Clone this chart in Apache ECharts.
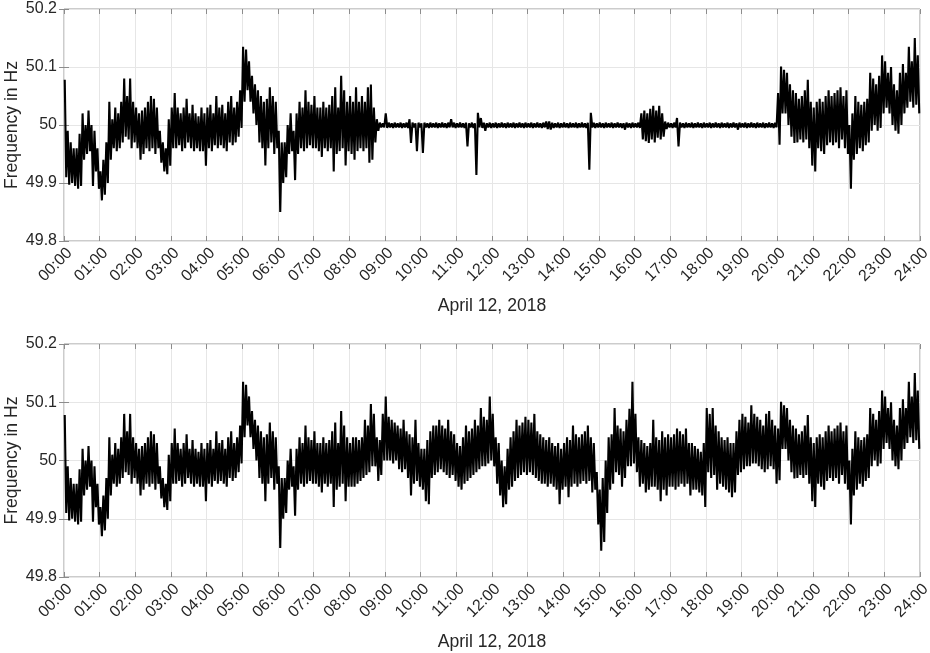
<!DOCTYPE html>
<html>
<head>
<meta charset="utf-8">
<title>Grid frequency, April 12, 2018</title>
<script src="https://cdn.jsdelivr.net/npm/echarts@6/dist/echarts.min.js"></script>
<style>
html, body { margin: 0; padding: 0; background: #fff; }
#main { width: 930px; height: 653px; }
</style>
</head>
<body>
<div id="main"></div>
<script>
// hour tick labels of both x axes
const hourLabels = ['00:00','01:00','02:00','03:00','04:00','05:00','06:00','07:00','08:00','09:00','10:00','11:00','12:00',
  '13:00','14:00','15:00','16:00','17:00','18:00','19:00','20:00','21:00','22:00','23:00','24:00'];

// frequency envelope per 5 minute slot (upper / lower value)
// 00:00 - 08:00, same in both panels
const hiMorning = [
  50.078, 49.99, 49.97, 49.96, 49.96, 49.985, 50.02, 50.0, 50.025, 50.0, 49.99, 49.96,
  49.92, 49.94, 49.97, 50.04, 50.01, 50.03, 50.02, 50.04, 50.08, 50.05, 50.08, 50.04,
  50.03, 50.02, 50.025, 50.03, 50.04, 50.05, 50.045, 50.03, 49.99, 49.97, 49.96, 50.01,
  50.03, 50.055, 50.03, 50.02, 50.03, 50.045, 50.02, 50.035, 50.02, 50.015, 50.03, 50.02,
  50.03, 50.035, 50.02, 50.05, 50.03, 50.035, 50.02, 50.04, 50.05, 50.03, 50.04, 50.06,
  50.135, 50.13, 50.11, 50.085, 50.07, 50.06, 50.05, 50.04, 50.045, 50.065, 50.05, 50.04,
  49.99, 49.97, 49.97, 50.0, 50.02, 49.99, 50.02, 50.04, 50.03, 50.06, 50.04, 50.035,
  50.05, 50.03, 50.03, 50.04, 50.03, 50.035, 50.05, 50.065, 50.03, 50.085, 50.06, 50.04
];
const loMorning = [
  49.91, 49.897, 49.9, 49.895, 49.89, 49.895, 49.94, 49.95, 49.955, 49.895, 49.92, 49.89,
  49.87, 49.88, 49.9, 49.94, 49.96, 49.955, 49.96, 49.97, 49.98, 49.975, 49.96, 49.97,
  49.96, 49.94, 49.95, 49.96, 49.955, 49.96, 49.95, 49.96, 49.935, 49.92, 49.915, 49.93,
  49.96, 49.96, 49.965, 49.955, 49.96, 49.97, 49.96, 49.955, 49.96, 49.955, 49.955, 49.93,
  49.96, 49.955, 49.965, 49.96, 49.965, 49.96, 49.955, 49.97, 49.965, 49.97, 49.98, 49.995,
  50.04, 50.06, 50.04, 50.02, 50.0, 49.97, 49.96, 49.93, 49.96, 49.97, 49.95, 49.96,
  49.85, 49.9, 49.91, 49.95, 49.955, 49.905, 49.95, 49.96, 49.955, 49.96, 49.965, 49.96,
  49.96, 49.955, 49.945, 49.96, 49.955, 49.96, 49.92, 49.95, 49.955, 49.96, 49.93, 49.955
];

// 08:00 - 20:00, upper panel (controlled, nearly flat)
const hiDayTop = [
  50.05, 50.04, 50.065, 50.04, 50.05, 50.04, 50.065, 50.07, 50.03, 50.01, 50.004, 50.003,
  50.02, 50.004, 50.003, 50.004, 50.003, 50.004, 50.003, 50.004, 50.01, 50.004, 50.003, 50.004,
  50.003, 50.004, 50.003, 50.004, 50.003, 50.004, 50.003, 50.004, 50.003, 50.004, 50.01, 50.004,
  50.003, 50.004, 50.003, 50.004, 50.003, 50.004, 50.003, 50.021, 50.012, 50.004, 50.003, 50.004,
  50.003, 50.004, 50.003, 50.004, 50.003, 50.004, 50.003, 50.004, 50.003, 50.004, 50.003, 50.004,
  50.003, 50.004, 50.003, 50.004, 50.003, 50.004, 50.006, 50.006, 50.004, 50.003, 50.004, 50.003,
  50.004, 50.003, 50.004, 50.003, 50.004, 50.003, 50.004, 50.003, 50.004, 50.021, 50.004, 50.003,
  50.004, 50.003, 50.004, 50.003, 50.004, 50.003, 50.004, 50.003, 50.003, 50.004, 50.003, 50.004,
  50.003, 50.004, 50.02, 50.025, 50.02, 50.028, 50.033, 50.025, 50.033, 50.02, 50.006, 50.004,
  50.003, 50.004, 50.012, 50.004, 50.003, 50.004, 50.003, 50.004, 50.003, 50.004, 50.003, 50.004,
  50.003, 50.004, 50.003, 50.004, 50.003, 50.004, 50.003, 50.004, 50.003, 50.004, 50.003, 50.004,
  50.003, 50.004, 50.003, 50.004, 50.003, 50.004, 50.003, 50.004, 50.003, 50.004, 50.003, 50.004
];
const loDayTop = [
  49.95, 49.94, 49.955, 49.96, 49.955, 49.96, 49.935, 49.94, 49.97, 49.99, 49.996, 49.996,
  49.995, 49.996, 49.995, 49.996, 49.996, 49.995, 49.996, 49.995, 49.969, 49.996, 49.955, 49.996,
  49.952, 49.996, 49.995, 49.996, 49.996, 49.995, 49.996, 49.996, 49.995, 49.996, 49.996, 49.995,
  49.996, 49.996, 49.995, 49.963, 49.996, 49.995, 49.914, 49.996, 49.995, 49.99, 49.996, 49.995,
  49.996, 49.995, 49.996, 49.996, 49.995, 49.996, 49.996, 49.995, 49.996, 49.996, 49.995, 49.996,
  49.996, 49.995, 49.996, 49.996, 49.995, 49.996, 49.993, 49.992, 49.995, 49.996, 49.995, 49.996,
  49.996, 49.995, 49.996, 49.996, 49.995, 49.996, 49.996, 49.995, 49.923, 49.996, 49.995, 49.996,
  49.996, 49.995, 49.996, 49.996, 49.995, 49.996, 49.996, 49.995, 49.992, 49.996, 49.995, 49.996,
  49.996, 49.995, 49.975, 49.972, 49.969, 49.975, 49.97, 49.978, 49.975, 49.98, 49.993, 49.996,
  49.995, 49.996, 49.963, 49.996, 49.995, 49.996, 49.996, 49.995, 49.996, 49.996, 49.995, 49.996,
  49.996, 49.995, 49.996, 49.996, 49.995, 49.996, 49.996, 49.995, 49.996, 49.996, 49.992, 49.996,
  49.996, 49.995, 49.996, 49.996, 49.995, 49.996, 49.996, 49.995, 49.996, 49.996, 49.995, 49.996
];

// 08:00 - 20:00, lower panel
const hiDayBottom = [
  50.03, 50.04, 50.04, 50.035, 50.04, 50.07, 50.06, 50.097, 50.08, 50.04, 50.035, 50.08,
  50.11, 50.075, 50.07, 50.065, 50.06, 50.055, 50.07, 50.05, 50.045, 50.04, 50.07, 50.03,
  50.02, 50.02, 50.035, 50.05, 50.06, 50.06, 50.07, 50.06, 50.055, 50.07, 50.05, 50.045,
  50.03, 50.025, 50.04, 50.06, 50.05, 50.055, 50.07, 50.06, 50.09, 50.075, 50.07, 50.11,
  50.08, 50.04, 50.03, 50.0, 49.99, 50.02, 50.04, 50.05, 50.07, 50.06, 50.065, 50.075,
  50.07, 50.065, 50.08, 50.05, 50.045, 50.04, 50.035, 50.04, 50.03, 50.025, 50.03, 50.02,
  50.03, 50.04, 50.035, 50.06, 50.045, 50.04, 50.045, 50.05, 50.06, 50.04, 50.03, 49.98,
  49.95, 49.97, 50.0, 50.04, 50.045, 50.09, 50.06, 50.055, 50.05, 50.07, 50.089, 50.135,
  50.08, 50.04, 50.035, 50.03, 50.025, 50.03, 50.07, 50.04, 50.035, 50.05, 50.04, 50.045,
  50.04, 50.045, 50.055, 50.05, 50.045, 50.055, 50.03, 50.03, 50.025, 50.02, 50.015, 50.03,
  50.09, 50.08, 50.09, 50.06, 50.05, 50.04, 50.035, 50.04, 50.03, 50.03, 50.05, 50.07,
  50.08, 50.075, 50.065, 50.095, 50.08, 50.075, 50.07, 50.06, 50.08, 50.085, 50.07, 50.06
];
const loDayBottom = [
  49.955, 49.955, 49.96, 49.965, 49.97, 49.975, 49.98, 49.99, 49.99, 49.965, 49.975, 50.0,
  50.0, 50.0, 49.995, 50.0, 49.985, 49.98, 49.985, 49.97, 49.94, 49.96, 49.965, 49.955,
  49.95, 49.93, 49.925, 49.97, 49.975, 49.98, 49.985, 49.98, 49.975, 49.97, 49.975, 49.965,
  49.955, 49.95, 49.96, 49.965, 49.97, 49.975, 49.98, 49.985, 49.99, 49.99, 49.995, 50.0,
  49.99, 49.96, 49.94, 49.92, 49.925, 49.95, 49.955, 49.965, 49.97, 49.975, 49.98, 49.975,
  49.98, 49.975, 49.97, 49.965, 49.96, 49.96, 49.955, 49.96, 49.955, 49.95, 49.925, 49.95,
  49.955, 49.937, 49.955, 49.96, 49.955, 49.96, 49.965, 49.96, 49.965, 49.945, 49.95, 49.89,
  49.845, 49.86, 49.91, 49.95, 49.96, 49.98, 49.975, 49.955, 49.97, 49.99, 49.99, 49.995,
  49.98, 49.955, 49.96, 49.945, 49.95, 49.955, 49.955, 49.95, 49.93, 49.95, 49.94, 49.955,
  49.955, 49.95, 49.955, 49.96, 49.955, 49.96, 49.94, 49.95, 49.95, 49.945, 49.94, 49.92,
  49.98, 49.97, 49.975, 49.95, 49.96, 49.955, 49.95, 49.945, 49.937, 49.945, 49.975, 49.98,
  49.985, 49.99, 49.99, 49.995, 49.995, 49.99, 49.985, 49.98, 49.985, 49.99, 49.985, 49.96
];

// 20:00 - 24:00, same in both panels
const hiEvening = [
  50.055, 50.101, 50.095, 50.09, 50.07, 50.06, 50.055, 50.045, 50.05, 50.06, 50.078, 50.04,
  50.03, 50.04, 50.045, 50.04, 50.05, 50.06, 50.05, 50.055, 50.06, 50.065, 50.05, 50.06,
  50.0, 50.02, 50.05, 50.04, 50.035, 50.04, 50.045, 50.09, 50.08, 50.07, 50.085, 50.12,
  50.11, 50.09, 50.1, 50.07, 50.06, 50.09, 50.105, 50.09, 50.135, 50.11, 50.15, 50.12
];
const loEvening = [
  49.966, 50.02, 50.02, 50.0, 49.98, 49.969, 49.97, 49.975, 49.97, 49.975, 49.96, 49.93,
  49.92, 49.96, 49.955, 49.95, 49.965, 49.97, 49.965, 49.97, 49.96, 49.975, 49.96, 49.95,
  49.89, 49.94, 49.95, 49.96, 49.955, 49.965, 49.97, 49.99, 50.0, 49.99, 49.995, 50.02,
  50.03, 50.02, 50.0, 49.99, 49.985, 50.0, 50.02, 50.03, 50.04, 50.03, 50.035, 50.02
];

// one slot = 5 min, upper value in the first half, lower value in the second half
function slotLine(hi, lo) {
  const pts = [];
  for (let i = 0; i < hi.length; i++) {
    const t = i * 5 / 60;
    pts.push([t + 1.25 / 60, hi[i]]);
    pts.push([t + 3.75 / 60, lo[i]]);
  }
  return pts;
}

const topData = slotLine(hiMorning.concat(hiDayTop, hiEvening), loMorning.concat(loDayTop, loEvening));
const bottomData = slotLine(hiMorning.concat(hiDayBottom, hiEvening), loMorning.concat(loDayBottom, loEvening));

const font = 'Liberation Sans, Arial, Helvetica, sans-serif';
const textColor = '#262626';

function xAxes(gridIndex) {
  return [
    {
      gridIndex: gridIndex,
      type: 'value',
      min: 0,
      max: 24,
      interval: 1,
      name: 'April 12, 2018',
      nameLocation: 'middle',
      nameGap: 56,
      nameTextStyle: { fontFamily: font, fontSize: 17.6, color: textColor },
      axisLine: { show: false },
      axisTick: { inside: true, length: 5, lineStyle: { color: '#8c8c8c' } },
      axisLabel: {
        rotate: 45,
        margin: 4,
        verticalAlign: 'top',
        fontFamily: font,
        fontSize: 16,
        color: textColor,
        formatter: function (v) { return hourLabels[Math.round(v)]; }
      },
      splitLine: { show: true, lineStyle: { color: '#e6e6e6', width: 1 } }
    },
    {
      gridIndex: gridIndex,
      type: 'value',
      position: 'top',
      min: 0,
      max: 24,
      interval: 1,
      axisLine: { show: false },
      axisTick: { inside: true, length: 5, lineStyle: { color: '#8c8c8c' } },
      axisLabel: { show: false },
      splitLine: { show: false }
    }
  ];
}

function yAxes(gridIndex) {
  return [
    {
      gridIndex: gridIndex,
      type: 'value',
      min: 49.8,
      max: 50.2,
      interval: 0.1,
      name: 'Frequency in Hz',
      nameLocation: 'middle',
      nameGap: 43,
      nameMoveOverlap: false,
      nameTextStyle: { fontFamily: font, fontSize: 17.6, color: textColor },
      axisLine: { show: false },
      axisTick: { inside: true, length: 5, lineStyle: { color: '#8c8c8c' } },
      axisLabel: {
        margin: 7,
        fontFamily: font,
        fontSize: 16,
        color: textColor,
        formatter: function (v) { return String(Number(v.toFixed(1))); }
      },
      splitLine: { show: true, lineStyle: { color: '#e6e6e6', width: 1 } }
    },
    {
      gridIndex: gridIndex,
      type: 'value',
      position: 'right',
      min: 49.8,
      max: 50.2,
      interval: 0.1,
      axisLine: { show: false },
      axisTick: { inside: true, length: 5, lineStyle: { color: '#8c8c8c' } },
      axisLabel: { show: false },
      splitLine: { show: false }
    }
  ];
}

let option = {
  animation: false,
  backgroundColor: '#fff',
  grid: [
    { left: 64, top: 9, width: 856, height: 232, outerBoundsMode: 'none', show: true, borderColor: '#999', borderWidth: 1, backgroundColor: '#fff' },
    { left: 64, top: 344, width: 856, height: 233, outerBoundsMode: 'none', show: true, borderColor: '#999', borderWidth: 1, backgroundColor: '#fff' }
  ],
  xAxis: xAxes(0).concat(xAxes(1)),
  yAxis: yAxes(0).concat(yAxes(1)),
  series: [
    {
      name: 'top',
      type: 'line',
      xAxisIndex: 0,
      yAxisIndex: 0,
      data: topData,
      symbol: 'none',
      lineStyle: { color: '#000', width: 2.1 }
    },
    {
      name: 'bottom',
      type: 'line',
      xAxisIndex: 2,
      yAxisIndex: 2,
      data: bottomData,
      symbol: 'none',
      lineStyle: { color: '#000', width: 2.1 }
    }
  ]
};

let myChart = echarts.init(document.getElementById('main'), null, { renderer: 'canvas' });
myChart.setOption(option);
</script>
</body>
</html>
